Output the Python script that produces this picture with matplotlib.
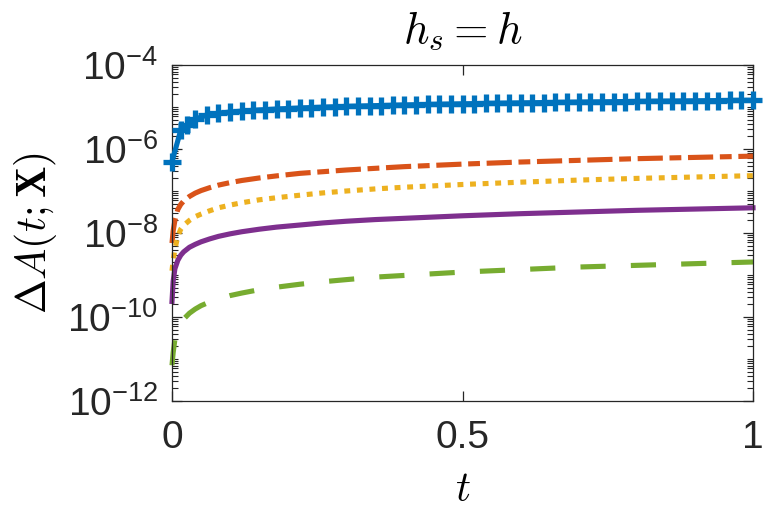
import numpy as np
import matplotlib
matplotlib.use("Agg")
import matplotlib.pyplot as plt
from matplotlib.ticker import LogLocator, NullFormatter, FixedLocator

# ---------------- data ----------------
t_blue = [0.0, 0.015, 0.025, 0.04, 0.06, 0.08, 0.10, 0.12, 0.14, 0.16, 0.18, 0.20,
          0.22, 0.24, 0.26, 0.28, 0.30, 0.32, 0.34, 0.36, 0.38, 0.40, 0.42, 0.44,
          0.46, 0.48, 0.50, 0.52, 0.54, 0.56, 0.58, 0.60, 0.62, 0.64, 0.66, 0.68,
          0.70, 0.72, 0.74, 0.76, 0.78, 0.80, 0.82, 0.84, 0.86, 0.88, 0.90, 0.92,
          0.94, 0.96, 0.98, 1.00]
blue = [5.0e-7, 2.8e-6, 3.7e-6, 5.1e-6, 6.5e-6, 7.1e-6, 7.58e-6, 7.98e-6, 8.34e-6,
        8.65e-6, 8.94e-6, 9.20e-6, 9.46e-6, 9.69e-6, 9.91e-6, 1.012e-5, 1.032e-5,
        1.050e-5, 1.068e-5, 1.085e-5, 1.102e-5, 1.118e-5, 1.133e-5, 1.148e-5,
        1.162e-5, 1.176e-5, 1.190e-5, 1.203e-5, 1.216e-5, 1.228e-5, 1.240e-5,
        1.252e-5, 1.264e-5, 1.275e-5, 1.286e-5, 1.297e-5, 1.308e-5, 1.318e-5,
        1.328e-5, 1.338e-5, 1.348e-5, 1.357e-5, 1.367e-5, 1.376e-5, 1.385e-5,
        1.394e-5, 1.403e-5, 1.412e-5, 1.420e-5, 1.429e-5, 1.437e-5, 1.445e-5]

# the other four curves, read as decades (log10 of the value)
t = [0.0, 0.002, 0.005, 0.01, 0.015, 0.02, 0.03, 0.04, 0.05, 0.065, 0.08, 0.1,
     0.12, 0.15, 0.18, 0.22, 0.26, 0.3, 0.35, 0.4, 0.5, 0.6, 0.7, 0.8, 0.9, 1.0]
orange_log10 = [-8.24, -7.95, -7.70, -7.44, -7.32, -7.24, -7.13, -7.05, -6.99,
                -6.92, -6.86, -6.80, -6.75, -6.69, -6.64, -6.58, -6.54, -6.50,
                -6.46, -6.42, -6.36, -6.31, -6.27, -6.23, -6.20, -6.17]
yellow_log10 = [-8.90, -8.65, -8.38, -8.08, -7.91, -7.82, -7.70, -7.61, -7.55,
                -7.47, -7.40, -7.335, -7.28, -7.21, -7.16, -7.10, -7.045, -7.00,
                -6.95, -6.91, -6.845, -6.79, -6.74, -6.70, -6.667, -6.635]
purple_log10 = [-9.63, -9.15, -8.85, -8.65, -8.53, -8.45, -8.34, -8.27, -8.21,
                -8.14, -8.08, -8.02, -7.97, -7.91, -7.86, -7.81, -7.76, -7.72,
                -7.68, -7.65, -7.59, -7.54, -7.50, -7.46, -7.43, -7.40]
green_log10 = [-11.15, -10.85, -10.53, -10.29, -10.15, -10.05, -9.91, -9.81, -9.73,
               -9.64, -9.57, -9.49, -9.43, -9.35, -9.29, -9.22, -9.16, -9.11,
               -9.05, -9.01, -8.93, -8.87, -8.81, -8.77, -8.73, -8.69]

x_ticks = [0, 0.5, 1]
x_tick_labels = ["0", "0.5", "1"]
y_ticks = [1e-12, 1e-10, 1e-8, 1e-6, 1e-4]

orange = 10.0 ** np.array(orange_log10)
yellow = 10.0 ** np.array(yellow_log10)
purple = 10.0 ** np.array(purple_log10)
green = 10.0 ** np.array(green_log10)

# ---------------- style ----------------
plt.rcParams['font.family'] = ['Liberation Sans', 'DejaVu Sans']
plt.rcParams['mathtext.fontset'] = 'cm'
plt.rcParams['axes.unicode_minus'] = False

C_BLUE = '#0072BD'
C_ORANGE = '#D95319'
C_YELLOW = '#EDB120'
C_PURPLE = '#7E2F8E'
C_GREEN = '#77AC30'
AX_COL = '#262626'

fig = plt.figure(figsize=(7.67, 5.21), dpi=100)
ax = fig.add_axes([172/767, 1-401/521, (753-172)/767, (401-65)/521])

lw = 3.7
ax.plot(t_blue, blue, color=C_BLUE, lw=lw, marker='+', ms=13, mew=3.8,
        clip_on=False, zorder=3)
ax.plot(t, orange, color=C_ORANGE, lw=lw, dashes=(4.9, 1.3, 2.3, 1.3),
        dash_capstyle='butt', clip_on=False)
ax.plot(t, yellow, color=C_YELLOW, lw=lw, dashes=(1.15, 1.3),
        dash_capstyle='butt', clip_on=False)
ax.plot(t, purple, color=C_PURPLE, lw=lw, clip_on=False)
ax.plot(t, green, color=C_GREEN, lw=lw, dashes=(4.9, 4.9),
        dash_capstyle='butt', clip_on=False)

ax.set_yscale('log')
ax.set_xlim(0, 1)
ax.set_ylim(1e-12, 1e-4)

ax.xaxis.set_major_locator(FixedLocator(x_ticks))
ax.set_xticklabels(x_tick_labels)
ax.yaxis.set_major_locator(FixedLocator(y_ticks))
ax.yaxis.set_minor_locator(LogLocator(base=10, subs=np.arange(1, 10), numticks=100))
ax.yaxis.set_minor_formatter(NullFormatter())

ax.tick_params(axis='both', which='both', direction='in', top=True, right=True,
               colors=AX_COL, labelcolor='#262626')
ax.tick_params(axis='both', which='major', length=7, width=0.9, labelsize=28)
ax.tick_params(axis='y', which='minor', length=4, width=0.8)
ax.tick_params(axis='y', which='major', pad=10)
ax.tick_params(axis='x', which='major', pad=14)

for s in ax.spines.values():
    s.set_color(AX_COL)
    s.set_linewidth(0.9)

ax.set_title(r'$h_s = h$', fontsize=32, pad=16)
ax.set_ylabel(r'$\Delta A(t;\mathbf{X})$', fontsize=30, labelpad=6)
ax.set_xlabel(r'$t$', fontsize=30, labelpad=10)

fig.savefig('out.png', dpi=100)
